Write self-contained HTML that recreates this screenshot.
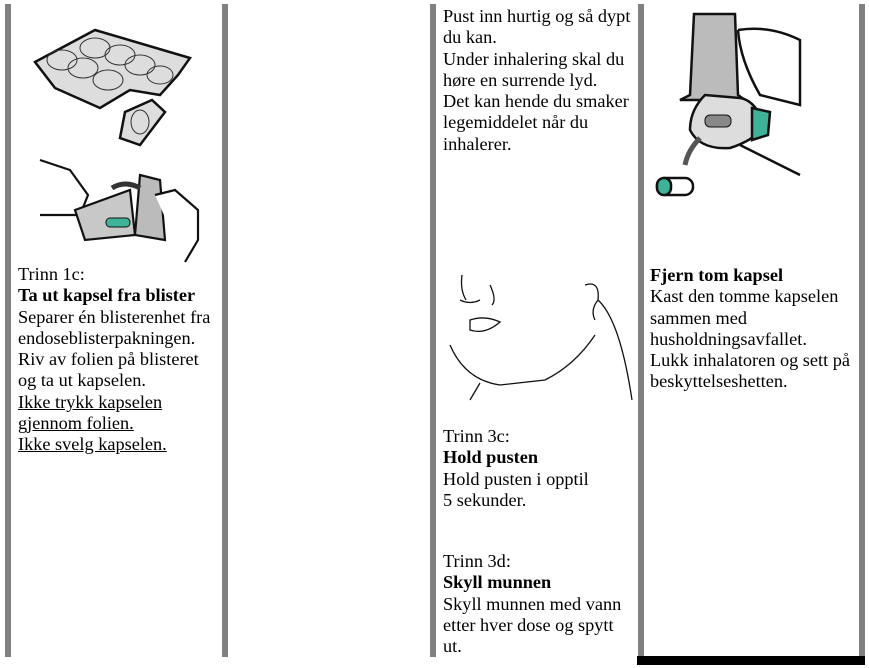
<!DOCTYPE html>
<html><head><meta charset="utf-8"><style>
body{margin:0;width:869px;height:668px;background:#fff;position:relative;overflow:hidden;font-family:"Liberation Serif",serif;font-size:18.3px;color:#000}
.bar{position:absolute;top:4px;width:6px;height:653px;background:#808080}
.t{position:absolute;line-height:21.3px;white-space:nowrap}
u{text-decoration:underline}
svg{position:absolute;left:0;top:0}
</style></head><body>
<div class="bar" style="left:5px"></div>
<div class="bar" style="left:222px"></div>
<div class="bar" style="left:430px"></div>
<div class="bar" style="left:638px"></div>
<div class="bar" style="left:859px"></div>
<div style="position:absolute;left:637px;top:656px;width:228px;height:9px;background:#000"></div>

<svg width="869" height="668">
<g stroke="#111" stroke-width="2.5" fill="#ddd">
<path d="M35 62 L95 30 L190 58 L178 75 L160 95 L130 90 L100 108 L55 88 Z"/>
<path d="M125 112 L152 100 L165 112 L140 145 L120 138 Z"/>
</g>
<g stroke="#333" stroke-width="1" fill="none">
<ellipse cx="62" cy="60" rx="15" ry="10"/><ellipse cx="83" cy="68" rx="15" ry="10"/><ellipse cx="95" cy="48" rx="15" ry="10"/>
<ellipse cx="120" cy="55" rx="15" ry="10"/><ellipse cx="108" cy="80" rx="15" ry="10"/><ellipse cx="140" cy="65" rx="15" ry="10"/><ellipse cx="160" cy="75" rx="13" ry="9"/><ellipse cx="140" cy="122" rx="9" ry="12"/>
</g>
<g stroke="#111" stroke-width="2.2" fill="#fff">
<path d="M40 160 L70 170 L88 195 L80 215 L40 215"/>
<path d="M75 210 L130 190 L135 235 L85 240 Z" fill="#c8c8c8"/>
<path d="M140 175 L160 180 L165 240 L135 235 Z" fill="#bbb"/>
<path d="M155 195 L175 190 L198 210 L198 240 L185 262"/>
</g>
<rect x="106" y="218" width="24" height="9" rx="4" fill="#3fb39a" stroke="#111"/>
<path d="M112 188 Q125 180 140 188" stroke="#333" stroke-width="5" fill="none"/>

<g stroke="#111" stroke-width="1.3" fill="none">
<path d="M462 275 Q460 290 466 300"/><path d="M490 285 Q497 300 492 305"/><path d="M460 300 Q470 305 480 300"/>
<path d="M470 320 Q485 315 500 322 Q485 335 470 330 Z"/>
<path d="M450 345 Q465 380 500 385 L545 380 Q575 365 595 335"/>
<path d="M585 285 Q600 280 598 300 Q590 310 595 320"/>
<path d="M598 300 Q620 320 632 400"/><path d="M480 383 L470 400"/>
</g>

<g stroke="#111" stroke-width="2.5">
<path d="M694 14 L735 14 L738 95 L745 100 L680 100 L690 95 Z" fill="#bbb"/>
<path d="M705 95 Q690 110 690 130 Q700 150 730 148 Q755 140 765 125 Q755 100 740 98 Z" fill="#ddd"/>
<path d="M752 108 L770 112 L768 135 L752 140 Z" fill="#3fb39a"/>
<path d="M738 30 Q770 25 800 40 L800 105 L760 95 Q740 60 738 30" fill="#fff"/>
<path d="M740 145 L800 175" fill="none"/>
<rect x="657" y="178" width="36" height="17" rx="8" fill="#fff"/>
<rect x="657" y="178" width="14" height="17" rx="7" fill="#3fb39a"/>
</g>
<path d="M700 138 Q688 150 685 165" stroke="#555" stroke-width="5" fill="none"/>
<rect x="705" y="115" width="26" height="12" rx="5" fill="#888" stroke="#111"/>
</svg>

<div class="t" style="left:18px;top:264px">Trinn 1c:<br><b>Ta ut kapsel fra blister</b><br>Separer én blisterenhet fra<br>endoseblisterpakningen.<br>Riv av folien på blisteret<br>og ta ut kapselen.<br><u>Ikke trykk kapselen</u><br><u>gjennom folien.</u><br><u>Ikke svelg kapselen.</u></div>
<div class="t" style="left:443px;top:6px">Pust inn hurtig og så dypt<br>du kan.<br>Under inhalering skal du<br>høre en surrende lyd.<br>Det kan hende du smaker<br>legemiddelet når du<br>inhalerer.</div>
<div class="t" style="left:443px;top:426px">Trinn 3c:<br><b>Hold pusten</b><br>Hold pusten i opptil<br>5 sekunder.</div>
<div class="t" style="left:443px;top:551px">Trinn 3d:<br><b>Skyll munnen</b><br>Skyll munnen med vann<br>etter hver dose og spytt<br>ut.</div>
<div class="t" style="left:650px;top:265px"><b>Fjern tom kapsel</b><br>Kast den tomme kapselen<br>sammen med<br>husholdningsavfallet.<br>Lukk inhalatoren og sett på<br>beskyttelseshetten.</div>
</body></html>
